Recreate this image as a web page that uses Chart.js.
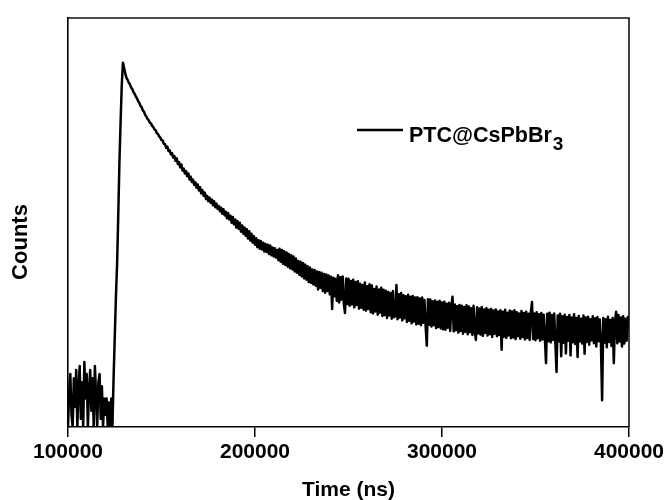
<!DOCTYPE html>
<html>
<head>
<meta charset="utf-8">
<title>PTC@CsPbBr3 decay</title>
<script src="https://cdn.jsdelivr.net/npm/chart.js@4.4.1/dist/chart.umd.min.js"></script>
<style>
    html, body { margin: 0; padding: 0; background: #fff; }
    #wrap { width: 668px; height: 500px; }
</style>
</head>
<body>
<div id="wrap"><canvas id="decayChart" width="668" height="500"></canvas></div>
<script>
// 通道时间 (ns)
const timeStart = 100000;
const timeStep = 625;

// x 轴刻度
const xTicks = [100000, 200000, 300000, 400000];

// 图例
const seriesLabel = 'PTC@CsPbBr3';

// 计数 (从图上读出, 任意单位), 每行 10 个通道
const counts = [
    0, 9, 13, 3, 0, 12, 5, 14, 0, 10,
    15, 2, 11, 0, 16, 7, 13, 0, 9, 14,
    4, 12, 0, 15, 8, 0, 11, 13, 2, 10,
    0, 7, 3, 7, 0, 6, 0, 7, 0, 12,
    22, 32, 40, 52, 65, 75, 84, 89.5, 88.2, 86.9,
    85.8, 85.3, 84.6, 84.2, 83.4, 83.1, 82.3, 81.9, 81.2, 80.8,
    80.1, 79.7, 78.9, 78.6, 77.8, 77.5, 76.7, 76.3, 75.7, 75.4,
    74.8, 74.6, 74.0, 73.7, 73.1, 72.9, 72.2, 72.0, 71.4, 71.1,
    70.5, 70.4, 69.6, 69.5, 68.6, 68.9, 67.8, 68.0, 67.0, 67.3,
    66.2, 66.6, 65.4, 66.0, 64.6, 65.1, 63.8, 64.5, 63.0, 63.5,
    62.3, 62.9, 61.6, 62.3, 60.8, 61.5, 60.2, 60.8, 59.5, 60.1,
    58.8, 59.6, 58.1, 58.9, 57.4, 58.2, 56.8, 57.6, 56.0, 56.8,
    55.5, 56.4, 55.1, 55.9, 54.5, 55.5, 54.0, 54.9, 53.6, 54.3,
    53.0, 53.9, 52.4, 53.5, 52.0, 52.9, 51.3, 52.6, 51.0, 51.9,
    50.2, 51.6, 49.8, 51.0, 49.0, 50.6, 48.7, 50.2, 48.0, 49.5,
    47.5, 49.0, 47.0, 48.6, 46.3, 48.1, 45.8, 47.5, 45.3, 46.9,
    44.8, 46.4, 44.2, 45.9, 43.8, 45.7, 43.6, 45.3, 43.1, 45.0,
    43.0, 44.8, 42.5, 44.6, 42.2, 44.1, 41.9, 43.9, 41.6, 43.5,
    41.0, 43.8, 40.6, 43.5, 40.1, 43.2, 39.8, 42.9, 39.4, 42.5,
    39.0, 42.2, 38.7, 41.9, 38.2, 41.4, 37.9, 40.8, 37.4, 40.6,
    37.0, 40.3, 36.5, 39.9, 36.2, 39.5, 35.6, 39.2, 35.4, 38.7,
    35.0, 38.6, 34.7, 38.2, 33.8, 38.1, 34.2, 37.9, 33.4, 37.6,
    33.0, 37.5, 33.4, 37.2, 32.6, 36.9, 29.0, 36.7, 32.1, 36.4,
    31.0, 37.3, 30.6, 36.8, 31.3, 37.0, 30.4, 28.0, 36.5, 30.2,
    36.4, 29.8, 35.9, 30.1, 36.2, 29.4, 35.6, 30.0, 35.8, 29.1,
    35.2, 29.3, 34.9, 28.8, 35.5, 28.6, 34.6, 29.0, 35.1, 28.2,
    34.8, 27.9, 33.9, 28.4, 34.5, 27.6, 33.8, 28.1, 34.2, 27.3,
    33.7, 27.5, 33.5, 26.8, 33.2, 27.4, 32.9, 26.6, 33.4, 27.0,
    27.2, 34.9, 26.5, 32.6, 26.9, 32.9, 26.2, 32.4, 26.7, 32.1,
    25.8, 32.5, 26.1, 32.0, 25.5, 32.2, 25.9, 31.8, 25.2, 31.9,
    25.4, 31.6, 25.0, 31.8, 25.6, 31.2, 24.8, 20.0, 31.4, 25.1,
    31.3, 24.7, 30.9, 25.0, 31.1, 24.3, 30.8, 24.6, 31.0, 24.2,
    30.6, 24.0, 30.8, 23.9, 30.3, 24.4, 30.5, 23.6, 29.9, 32.0,
    23.5, 30.1, 23.8, 29.7, 23.2, 30.0, 23.6, 29.8, 22.9, 29.5,
    23.4, 29.9, 22.8, 29.6, 23.3, 29.2, 22.6, 29.8, 23.5, 21.4,
    29.4, 23.0, 29.1, 22.7, 29.5, 22.4, 28.9, 23.1, 29.2, 22.5,
    28.8, 22.8, 29.0, 22.1, 28.6, 22.9, 28.9, 22.3, 28.4, 22.6,
    28.7, 19.0, 28.3, 22.2, 28.8, 21.9, 28.1, 22.5, 28.6, 21.8,
    28.4, 22.0, 28.7, 21.6, 28.2, 22.3, 27.9, 21.7, 28.5, 22.1,
    28.0, 21.5, 28.3, 21.9, 27.8, 21.4, 28.1, 30.7, 21.6, 27.9,
    21.3, 28.2, 21.8, 27.7, 21.2, 28.0, 21.5, 27.6, 21.9, 15.7,
    27.8, 21.1, 28.1, 20.8, 27.5, 21.4, 27.9, 20.6, 13.5, 27.4,
    21.0, 27.8, 17.4, 27.2, 20.7, 27.6, 18.1, 27.0, 21.2, 27.5,
    17.6, 26.9, 20.8, 27.7, 20.4, 26.8, 17.2, 27.3, 21.0, 26.6,
    20.5, 27.4, 18.0, 26.9, 20.9, 27.1, 20.2, 26.5, 21.3, 27.2,
    20.6, 26.7, 19.8, 27.0, 21.1, 26.4, 20.3, 6.6, 26.8, 20.7,
    26.5, 19.6, 27.1, 20.9, 26.3, 19.9, 26.8, 15.7, 25.9, 28.3,
    20.6, 27.5, 21.0, 26.9, 19.8, 27.2, 20.5, 26.6, 21.2, 27.0, 23.6
];

const FONT = '"Liberation Sans", Arial, Helvetica, sans-serif';
Chart.defaults.font.family = FONT;
Chart.defaults.color = '#000';

// 边框 + 图例 + y 轴标题
const decorPlugin = {
    id: 'decor',
    afterDatasetsDraw(chart) {
        const { ctx, chartArea: a } = chart;
        ctx.save();
        ctx.strokeStyle = '#111';
        ctx.lineWidth = 1.6;
        ctx.beginPath();
        ctx.moveTo(a.left, a.top);
        ctx.lineTo(a.right, a.top);
        ctx.lineTo(a.right, a.bottom);
        ctx.stroke();
        ctx.restore();
    },
    afterDraw(chart) {
        const ctx = chart.ctx;
        ctx.save();

        // 图例
        ctx.strokeStyle = '#000';
        ctx.lineWidth = 2.6;
        ctx.beginPath();
        ctx.moveTo(357, 130);
        ctx.lineTo(403, 130);
        ctx.stroke();

        const m = seriesLabel.match(/^(.*?)(\d+)$/);
        const main = m ? m[1] : seriesLabel;
        const sub = m ? m[2] : '';
        ctx.fillStyle = '#000';
        ctx.textBaseline = 'alphabetic';
        ctx.textAlign = 'left';
        ctx.font = 'bold 21.5px ' + FONT;
        ctx.fillText(main, 409, 141.5);
        const w = ctx.measureText(main).width;
        ctx.font = 'bold 19px ' + FONT;
        ctx.fillText(sub, 409 + w + 1, 150);

        // y 轴标题
        ctx.translate(21, 242);
        ctx.rotate(-Math.PI / 2);
        ctx.textAlign = 'center';
        ctx.textBaseline = 'middle';
        ctx.font = 'bold 22px ' + FONT;
        ctx.fillText('Counts', 0, 0);
        ctx.restore();
    }
};

new Chart(document.getElementById('decayChart'), {
    type: 'line',
    data: {
        datasets: [{
            label: seriesLabel,
            data: counts.map((c, i) => ({ x: timeStart + i * timeStep, y: c })),
            borderColor: '#000',
            borderWidth: 2.5,
            borderJoinStyle: 'round',
            pointRadius: 0,
            tension: 0,
            fill: false
        }]
    },
    options: {
        responsive: false,
        animation: false,
        devicePixelRatio: 1,
        layout: {
            padding: { top: 18, right: 39, left: 0, bottom: 0 }
        },
        plugins: {
            legend: { display: false },
            tooltip: { enabled: false }
        },
        scales: {
            x: {
                type: 'linear',
                min: 100000,
                max: 400000,
                afterBuildTicks: scale => {
                    scale.ticks = xTicks.map(v => ({ value: v }));
                },
                afterFit: scale => {
                    scale.height = 73;
                },
                ticks: {
                    callback: v => String(v),
                    font: { size: 21, weight: 'bold' },
                    color: '#000',
                    padding: 3,
                    maxRotation: 0
                },
                grid: {
                    drawOnChartArea: false,
                    drawTicks: true,
                    tickLength: 10,
                    color: '#000',
                    lineWidth: 1.5
                },
                border: { display: true, color: '#000', width: 1.6 },
                title: {
                    display: true,
                    text: 'Time (ns)',
                    font: { size: 21, weight: 'bold', lineHeight: 0.9 },
                    color: '#000',
                    padding: { top: 0, bottom: 0 }
                }
            },
            y: {
                min: 0,
                max: 100.5,
                afterFit: scale => {
                    scale.width = 68;
                },
                ticks: { display: false },
                grid: { display: false, drawTicks: false },
                border: { display: true, color: '#000', width: 1.6 }
            }
        }
    },
    plugins: [decorPlugin]
});
</script>
</body>
</html>
